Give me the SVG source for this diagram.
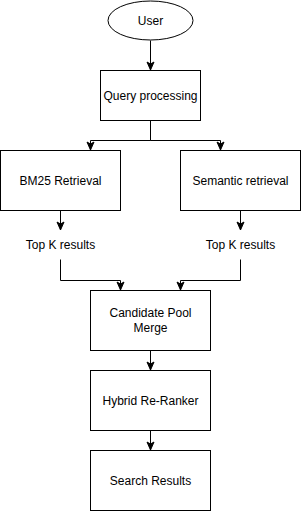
<svg xmlns="http://www.w3.org/2000/svg" width="301" height="512" viewBox="0 0 301 512">
<defs>
<style>
.box{fill:#ffffff;stroke:#000000;stroke-width:1}
.lbl{font-family:"Liberation Sans",Arial,Helvetica,sans-serif;font-size:12px;fill:#000000;text-anchor:middle}
.edge{fill:none;stroke:#000000;stroke-width:1}
</style>
<marker id="arr" markerUnits="userSpaceOnUse" markerWidth="10" markerHeight="10" viewBox="0 0 10 10" refX="9" refY="5" orient="auto">
<path d="M1,1.5 L9,5 L1,8.5 L3,5 Z" fill="#000000" stroke="#000000" stroke-width="1"/>
</marker>
</defs>
<rect x="0" y="0" width="301" height="512" fill="#ffffff"/>
<g id="connectors">
<path class="edge" d="M150.5,40.5 V70" marker-end="url(#arr)"/>
<path class="edge" d="M150.5,120.5 V140.5 H90.5 V150" marker-end="url(#arr)"/>
<path class="edge" d="M150.5,120.5 V140.5 H220.5 V150" marker-end="url(#arr)"/>
<path class="edge" d="M60.5,210.5 V230" marker-end="url(#arr)"/>
<path class="edge" d="M240.5,210.5 V230" marker-end="url(#arr)"/>
<path class="edge" d="M60.5,259.5 V280.5 H120.5 V290" marker-end="url(#arr)"/>
<path class="edge" d="M240.5,259.5 V280.5 H180.5 V290" marker-end="url(#arr)"/>
<path class="edge" d="M150.5,350.5 V370" marker-end="url(#arr)"/>
<path class="edge" d="M150.5,430.5 V450" marker-end="url(#arr)"/>
</g>
<g id="user">
<ellipse class="box" cx="150.5" cy="20.5" rx="42.5" ry="19.5"/>
<text class="lbl" x="150.5" y="24.5">User</text>
</g>
<g id="query">
<rect class="box" x="100.5" y="70.5" width="100" height="50"/>
<text class="lbl" x="150.5" y="99.5">Query processing</text>
</g>
<g id="bm25">
<rect class="box" x="0.5" y="150.5" width="120" height="60"/>
<text class="lbl" x="60.5" y="184.5">BM25 Retrieval</text>
</g>
<g id="semantic">
<rect class="box" x="180.5" y="150.5" width="120" height="60"/>
<text class="lbl" x="240.5" y="184.5">Semantic retrieval</text>
</g>
<g id="topk1">
<text class="lbl" x="60.5" y="248.5">Top K results</text>
</g>
<g id="topk2">
<text class="lbl" x="240.5" y="248.5">Top K results</text>
</g>
<g id="merge">
<rect class="box" x="90.5" y="290.5" width="120" height="60"/>
<text class="lbl" x="150.5" y="317">Candidate Pool</text>
<text class="lbl" x="150.5" y="332">Merge</text>
</g>
<g id="reranker">
<rect class="box" x="90.5" y="370.5" width="120" height="60"/>
<text class="lbl" x="150.5" y="404.5">Hybrid Re-Ranker</text>
</g>
<g id="results">
<rect class="box" x="90.5" y="450.5" width="120" height="60"/>
<text class="lbl" x="150.5" y="484.5">Search Results</text>
</g>
</svg>
